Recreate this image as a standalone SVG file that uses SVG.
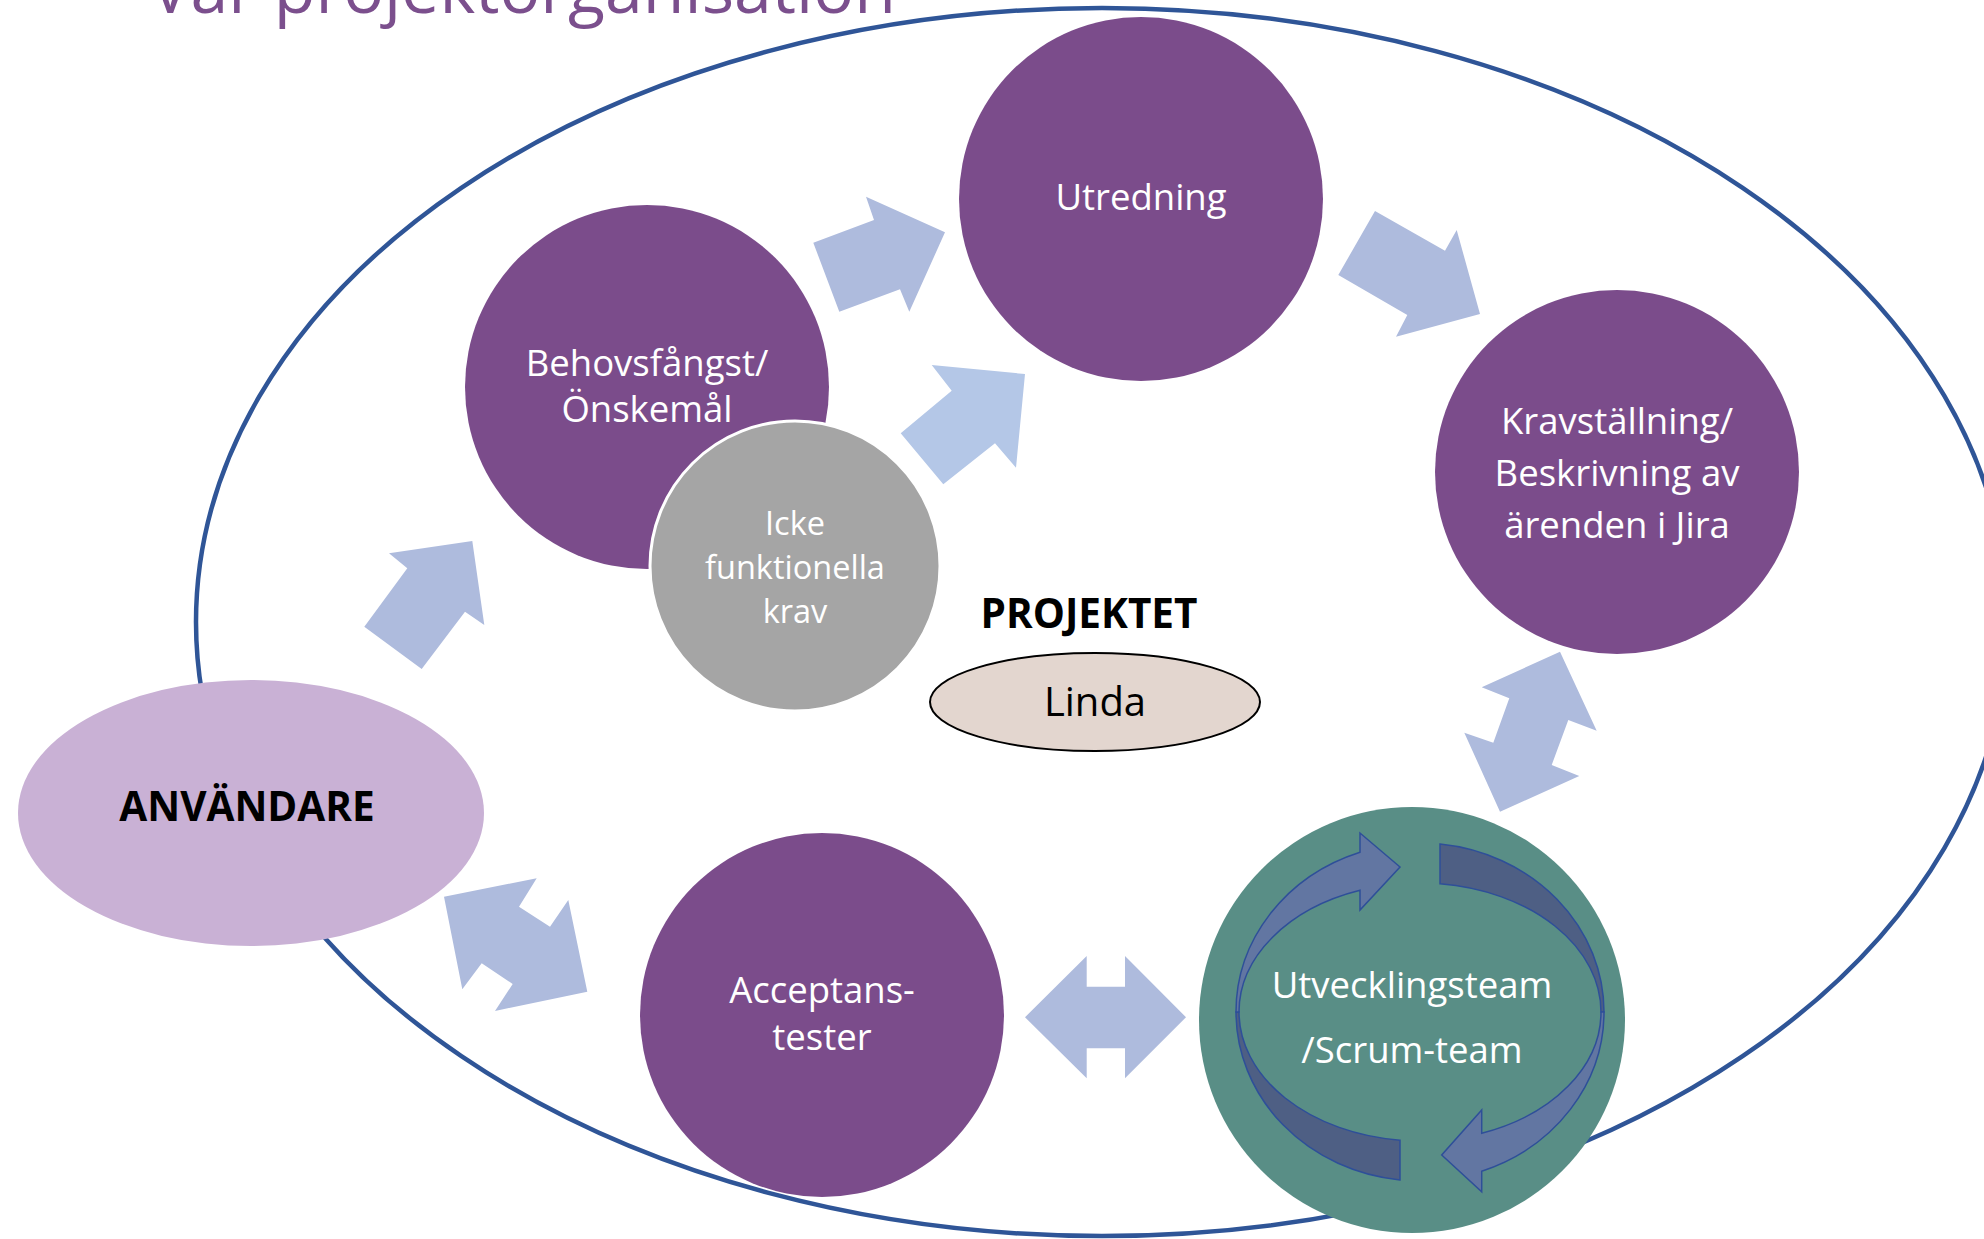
<svg xmlns="http://www.w3.org/2000/svg" width="1984" height="1239" viewBox="0 0 1984 1239">
<style>
.t{font-family:"Open Sans","Noto Sans",sans-serif;fill:#fff;text-anchor:middle;font-size:36.5px}
.s{font-family:"Open Sans","Noto Sans",sans-serif;fill:#fff;text-anchor:middle;font-size:32.5px}
.b{font-family:"Open Sans","Noto Sans",sans-serif;font-weight:bold;fill:#000;text-anchor:middle;font-size:40.5px}
.purple{fill:#7B4C8B}
.blk{fill:#AEBBDD}
.blk2{fill:#B4C7E7}
.rl{fill:#6276A2;stroke:#2E4F99;stroke-width:1.5}
.rd{fill:#4E5F84;stroke:#2E4F99;stroke-width:1.5}
</style>
<rect width="1984" height="1239" fill="#fff"/>
<text id="title" x="150" y="13" font-family="Open Sans, Noto Sans, sans-serif" font-size="68" fill="#7B4F8D">Vår projektorganisation</text>
<ellipse id="projekt-boundary" cx="1102" cy="622" rx="906" ry="614" fill="none" stroke="#2F5597" stroke-width="4.5"/>

<g id="connectors">
  <polygon class="blk" points="813.3,242.7 874,220 866,196.7 945,232.3 909.3,311.7 900,289.3 839.3,311.7"/>
  <polygon class="blk2" points="1025,374 931.7,365 951.7,390.7 900.7,433.3 943.3,484.3 995,443.3 1016,467.7"/>
  <polygon class="blk" points="1375,211 1445,250.7 1456.7,230 1480,314 1396,336.7 1407.3,315 1338.3,275"/>
  <polygon class="blk" points="364.3,626.7 407.3,568.3 389,553.3 472.3,541 484.3,625 465,611.7 421.7,669"/>
  <polygon class="blk" points="1560,651.7 1596.7,730.7 1568.3,720 1551.7,765 1579.3,776 1500,811.7 1464.3,732.7 1493.3,742.7 1509.3,698.3 1481.7,687.3"/>
  <polygon class="blk" points="444,896.7 536.7,878.3 519,906.7 550,926.7 568.3,900 587.3,991.7 495,1011 512.7,984 481.7,963.3 462.3,989.3"/>
  <polygon class="blk" points="1025,1017.3 1086.7,956 1086.7,986.7 1125,986.7 1125,956 1186,1017.3 1125,1078.3 1125,1048.3 1086.7,1048.3 1086.7,1078.3"/>
</g>

<g id="behovsfangst">
  <circle class="purple" cx="647" cy="387" r="182"/>
  <text class="t" x="647" y="376">Behovsfångst/</text>
  <text class="t" x="647" y="422">Önskemål</text>
</g>
<g id="icke-funktionella">
  <circle cx="795" cy="566" r="145" fill="#A5A5A5" stroke="#fff" stroke-width="3"/>
  <text class="s" x="795" y="535">Icke</text>
  <text class="s" x="795" y="579">funktionella</text>
  <text class="s" x="795" y="623">krav</text>
</g>
<g id="utredning">
  <circle class="purple" cx="1141" cy="199" r="182"/>
  <text class="t" x="1141" y="210">Utredning</text>
</g>
<g id="kravstallning">
  <circle class="purple" cx="1617" cy="472" r="182"/>
  <text class="t" x="1617" y="434">Kravställning/</text>
  <text class="t" x="1617" y="486">Beskrivning av</text>
  <text class="t" x="1617" y="538">ärenden i Jira</text>
</g>
<g id="anvandare">
  <ellipse cx="251" cy="813" rx="233" ry="133" fill="#C9B1D5"/>
  <text class="b" x="247" y="821">ANVÄNDARE</text>
</g>
<g id="projektet">
  <text class="b" x="1089" y="628">PROJEKTET</text>
</g>
<g id="linda">
  <ellipse cx="1095" cy="702" rx="165" ry="49" fill="#E3D6CF" stroke="#000" stroke-width="2"/>
  <text x="1095" y="716" font-family="Open Sans, Noto Sans, sans-serif" font-size="40" fill="#000" text-anchor="middle">Linda</text>
</g>
<g id="acceptanstester">
  <circle class="purple" cx="822" cy="1015" r="182"/>
  <text class="t" x="822" y="1003">Acceptans-</text>
  <text class="t" x="822" y="1050">tester</text>
</g>
<g id="utvecklingsteam">
  <circle cx="1412" cy="1020" r="213" fill="#598E86"/>
  <path class="rd" d="M1440,844 A184,169 0 0 1 1604,1012 L1601,1012 A181,129 0 0 0 1440,883.8 Z"/>
  <path class="rd" d="M1400,1180 A184,169 0 0 1 1236,1012 L1239,1012 A181,129 0 0 0 1400,1140.2 Z"/>
  <path class="rl" d="M1236,1012 A184,169 0 0 1 1360,852.2 L1360,833 L1400,867 L1360,910 L1360,890.3 A181,129 0 0 0 1239,1012 Z"/>
  <path class="rl" d="M1604,1012 A184,169 0 0 1 1481.7,1171.2 L1481.7,1191.7 L1441.7,1155 L1481.7,1110 L1481.7,1133.3 A181,129 0 0 0 1601,1012 Z"/>
  <text class="t" x="1412" y="998">Utvecklingsteam</text>
  <text class="t" x="1412" y="1063">/Scrum-team</text>
</g>
</svg>
